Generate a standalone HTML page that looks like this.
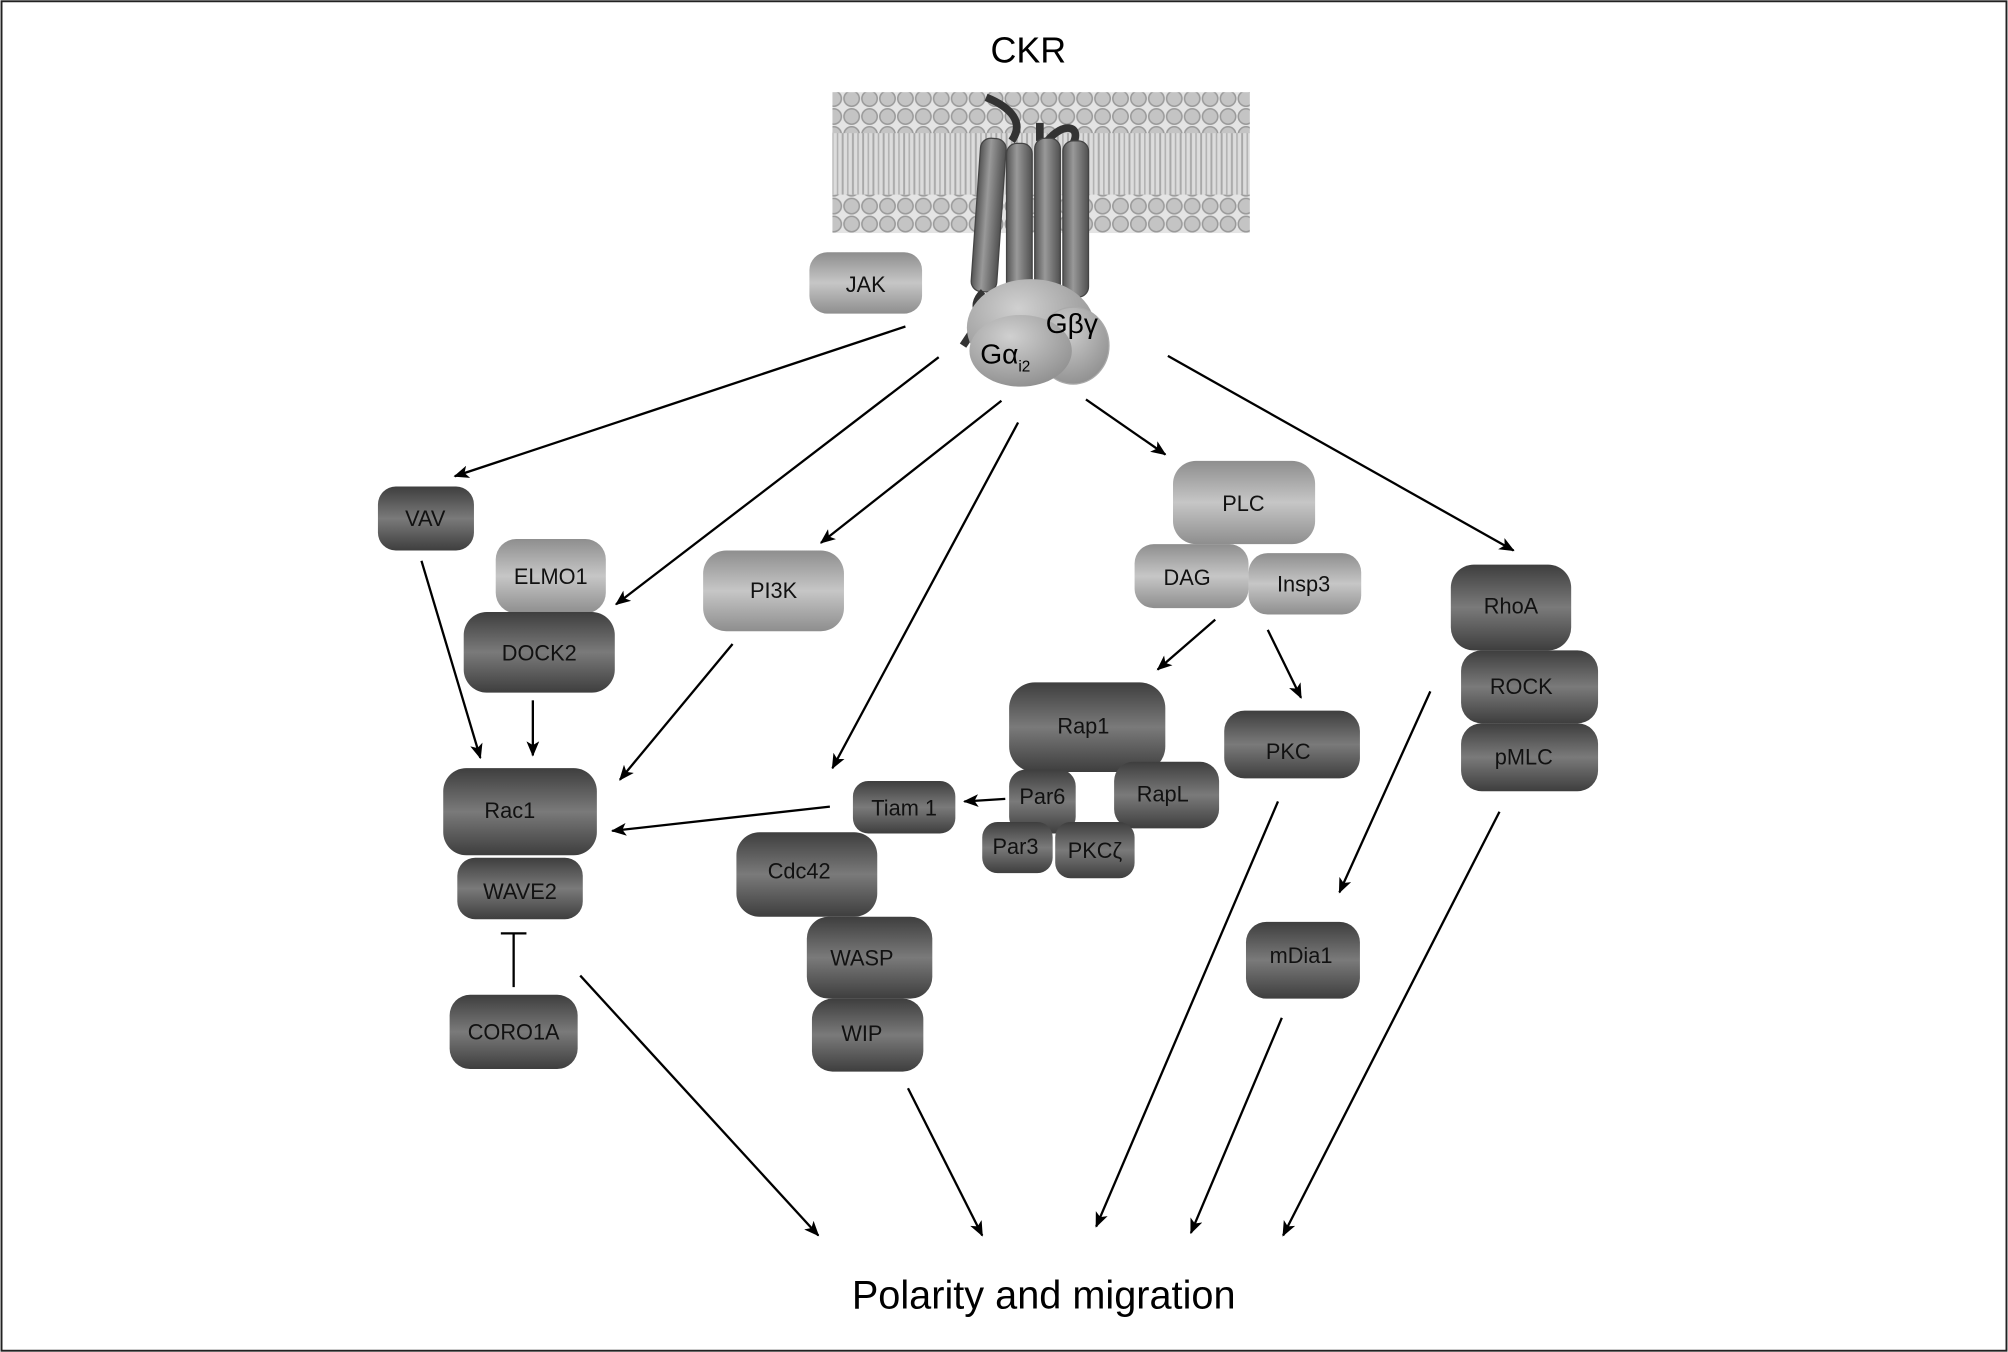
<!DOCTYPE html>
<html><head><meta charset="utf-8"><style>html,body{margin:0;padding:0;background:#fff}svg{display:block}</style></head>
<body>
<svg width="2008" height="1352" viewBox="0 0 1568 1056" xmlns="http://www.w3.org/2000/svg" font-family="'Liberation Sans', sans-serif">
<defs>
<linearGradient id="dk" x1="0" y1="0" x2="0" y2="1"><stop offset="0" stop-color="#3e3e3e"/><stop offset="0.5" stop-color="#7a7a7a"/><stop offset="1" stop-color="#3e3e3e"/></linearGradient>
<linearGradient id="lt" x1="0" y1="0" x2="0" y2="1"><stop offset="0" stop-color="#8e8e8e"/><stop offset="0.5" stop-color="#c6c6c6"/><stop offset="1" stop-color="#8e8e8e"/></linearGradient>
<linearGradient id="cyl" x1="0" y1="0" x2="1" y2="0"><stop offset="0" stop-color="#555"/><stop offset="0.4" stop-color="#999"/><stop offset="1" stop-color="#505050"/></linearGradient>
<radialGradient id="gp" cx="0.4" cy="0.3" r="0.8"><stop offset="0" stop-color="#d0d0d0"/><stop offset="1" stop-color="#8a8a8a"/></radialGradient>
<pattern id="lip" width="14" height="14" patternUnits="userSpaceOnUse"><rect width="14" height="14" fill="#e4e4e4"/><circle cx="7" cy="7" r="6" fill="#c4c4c4" stroke="#9a9a9a" stroke-width="1.2"/></pattern>
<pattern id="tail" width="8" height="10" patternUnits="userSpaceOnUse"><rect width="8" height="10" fill="#dcdcdc"/><line x1="2" y1="0" x2="2" y2="10" stroke="#a8a8a8" stroke-width="1.5"/><line x1="6" y1="0" x2="6" y2="10" stroke="#b0b0b0" stroke-width="1.2"/></pattern>
<marker id="ah" markerWidth="12" markerHeight="10" refX="11" refY="5" orient="auto" markerUnits="userSpaceOnUse"><path d="M0,0 L12,5 L0,10 L3,5 Z" fill="#000"/></marker>
</defs>
<rect x="1" y="1" width="1566" height="1054" fill="#fff" stroke="#222" stroke-width="1.5"/>
<text x="803" y="49" font-size="28" text-anchor="middle">CKR</text>
<!-- membrane -->
<rect x="650" y="103" width="326" height="52" fill="url(#tail)"/>
<rect x="650" y="72" width="326" height="32" fill="url(#lip)"/>
<rect x="650" y="152" width="326" height="30" fill="url(#lip)"/>
<!-- receptor -->
<path d="M770,76 C790,84 800,96 790,110 M812,110 L812,96 M818,110 C830,95 845,98 838,112" stroke="#333" stroke-width="6" fill="none"/>
<g stroke="#444" stroke-width="1">
<rect x="762" y="108" width="20" height="120" rx="8" fill="url(#cyl)" transform="rotate(4 772 168)"/>
<rect x="786" y="112" width="20" height="125" rx="8" fill="url(#cyl)"/>
<rect x="808" y="108" width="20" height="125" rx="8" fill="url(#cyl)"/>
<rect x="830" y="110" width="20" height="122" rx="8" fill="url(#cyl)"/>
</g>
<path d="M768,228 C755,240 770,248 760,258 L752,270 M798,236 C800,262 830,262 832,236" stroke="#333" stroke-width="6" fill="none"/>
<!-- G protein -->
<ellipse cx="805" cy="256" rx="50" ry="38" fill="url(#gp)"/>
<ellipse cx="838" cy="270" rx="28" ry="30" fill="url(#gp)" stroke="#aaa"/>
<ellipse cx="797" cy="274" rx="40" ry="28" fill="url(#gp)"/>
<text x="837" y="260" font-size="22" text-anchor="middle">Gβγ</text>
<text x="785" y="284" font-size="22" text-anchor="middle">Gα<tspan font-size="12" dy="6">i2</tspan></text>
<!-- boxes -->
<g font-size="17" text-anchor="middle" fill="#111">
<rect x="632" y="197" width="88" height="48" rx="14" fill="url(#lt)"/><text x="676" y="228">JAK</text>
<rect x="295" y="380" width="75" height="50" rx="14" fill="url(#dk)"/><text x="332" y="411">VAV</text>
<rect x="387" y="421" width="86" height="58" rx="16" fill="url(#lt)"/><text x="430" y="456">ELMO1</text>
<rect x="362" y="478" width="118" height="63" rx="18" fill="url(#dk)"/><text x="421" y="516">DOCK2</text>
<rect x="549" y="430" width="110" height="63" rx="18" fill="url(#lt)"/><text x="604" y="467">PI3K</text>
<rect x="916" y="360" width="111" height="65" rx="18" fill="url(#lt)"/><text x="971" y="399">PLC</text>
<rect x="886" y="425" width="89" height="50" rx="15" fill="url(#lt)"/><text x="927" y="457">DAG</text>
<rect x="975" y="432" width="88" height="48" rx="15" fill="url(#lt)"/><text x="1018" y="462">Insp3</text>
<rect x="1133" y="441" width="94" height="67" rx="18" fill="url(#dk)"/><text x="1180" y="479">RhoA</text>
<rect x="1141" y="508" width="107" height="57" rx="16" fill="url(#dk)"/><text x="1188" y="542">ROCK</text>
<rect x="1141" y="565" width="107" height="53" rx="16" fill="url(#dk)"/><text x="1190" y="597">pMLC</text>
<rect x="788" y="533" width="122" height="70" rx="20" fill="url(#dk)"/><text x="846" y="573">Rap1</text>
<rect x="870" y="595" width="82" height="52" rx="15" fill="url(#dk)"/><text x="908" y="626">RapL</text>
<rect x="788" y="601" width="52" height="50" rx="13" fill="url(#dk)"/><text x="814" y="628">Par6</text>
<rect x="767" y="642" width="55" height="40" rx="12" fill="url(#dk)"/><text x="793" y="667">Par3</text>
<rect x="824" y="642" width="62" height="44" rx="12" fill="url(#dk)"/><text x="855" y="670">PKCζ</text>
<rect x="956" y="555" width="106" height="53" rx="16" fill="url(#dk)"/><text x="1006" y="593">PKC</text>
<rect x="666" y="610" width="80" height="41" rx="12" fill="url(#dk)"/><text x="706" y="637">Tiam 1</text>
<rect x="575" y="650" width="110" height="66" rx="18" fill="url(#dk)"/><text x="624" y="686">Cdc42</text>
<rect x="630" y="716" width="98" height="64" rx="17" fill="url(#dk)"/><text x="673" y="754">WASP</text>
<rect x="634" y="780" width="87" height="57" rx="16" fill="url(#dk)"/><text x="673" y="813">WIP</text>
<rect x="346" y="600" width="120" height="68" rx="18" fill="url(#dk)"/><text x="398" y="639">Rac1</text>
<rect x="357" y="670" width="98" height="48" rx="14" fill="url(#dk)"/><text x="406" y="702">WAVE2</text>
<rect x="351" y="777" width="100" height="58" rx="16" fill="url(#dk)"/><text x="401" y="812">CORO1A</text>
<rect x="973" y="720" width="89" height="60" rx="16" fill="url(#dk)"/><text x="1016" y="752">mDia1</text>
</g>
<!-- arrows -->
<g stroke="#000" stroke-width="1.8" fill="none" marker-end="url(#ah)">
<line x1="707" y1="255" x2="355" y2="372"/>
<line x1="733" y1="279" x2="481" y2="472"/>
<line x1="782" y1="313" x2="641" y2="424"/>
<line x1="795" y1="330" x2="650" y2="600"/>
<line x1="848" y1="312" x2="910" y2="355"/>
<line x1="912" y1="278" x2="1182" y2="430"/>
<line x1="329" y1="438" x2="375" y2="592"/>
<line x1="416" y1="547" x2="416" y2="590"/>
<line x1="572" y1="503" x2="484" y2="609"/>
<line x1="648" y1="630" x2="478" y2="649"/>
<line x1="785" y1="624" x2="753" y2="626"/>
<line x1="949" y1="484" x2="904" y2="523"/>
<line x1="990" y1="492" x2="1016" y2="545"/>
<line x1="1117" y1="540" x2="1046" y2="697"/>
<line x1="453" y1="762" x2="639" y2="965"/>
<line x1="709" y1="850" x2="767" y2="965"/>
<line x1="998" y1="626" x2="856" y2="958"/>
<line x1="1001" y1="795" x2="930" y2="963"/>
<line x1="1171" y1="634" x2="1002" y2="965"/>
</g>
<g stroke="#000" stroke-width="1.8"><line x1="401" y1="771" x2="401" y2="729"/><line x1="391" y1="729" x2="411" y2="729"/></g>
<text x="815" y="1022" font-size="31" text-anchor="middle">Polarity and migration</text>
</svg>
</body></html>
